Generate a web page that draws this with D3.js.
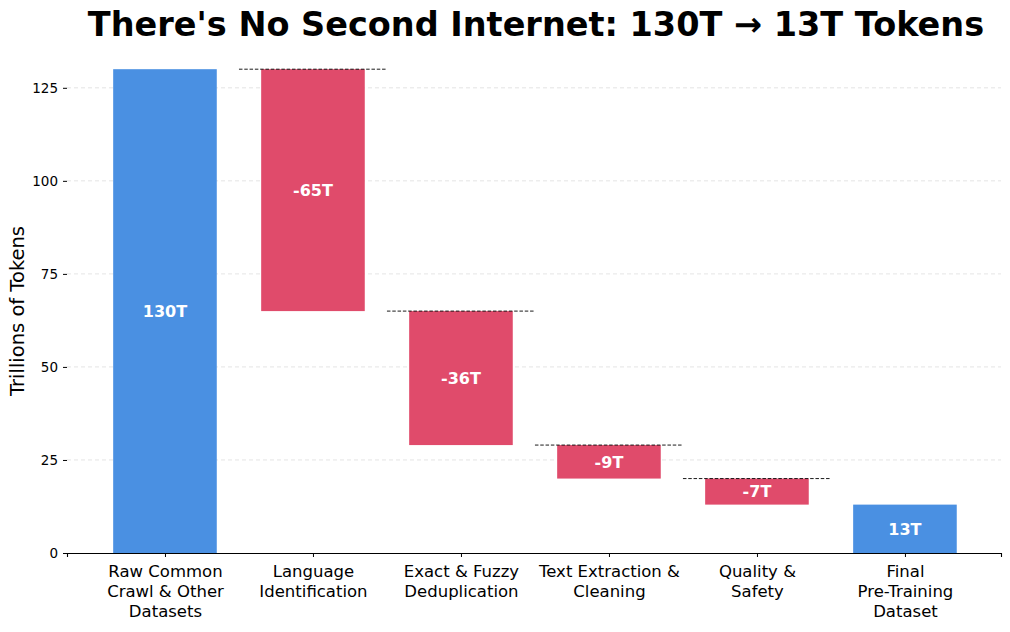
<!DOCTYPE html>
<html>
<head>
<meta charset="utf-8">
<script src="https://cdn.jsdelivr.net/npm/d3@7"></script>
<style>
  body { margin: 0; background: #fff; }
  svg, svg text { font-family: "DejaVu Sans", sans-serif; }
  .grid line { stroke: #dddddd; stroke-dasharray: 4,3; stroke-width: 0.8; }
  .axis text { fill: #000; }
</style>
</head>
<body>
<svg id="chart" width="1010" height="632"></svg>
<script>
// stages of the waterfall
var categories = [
  ['Raw Common', 'Crawl & Other', 'Datasets'],
  ['Language', 'Identification'],
  ['Exact & Fuzzy', 'Deduplication'],
  ['Text Extraction &', 'Cleaning'],
  ['Quality &', 'Safety'],
  ['Final', 'Pre-Training', 'Dataset']
];
var changes = [130, -65, -36, -9, -7, 13];   // trillions of tokens
var kinds = ['total', 'step', 'step', 'step', 'step', 'total'];
var labels = ['130T', '-65T', '-36T', '-9T', '-7T', '13T'];
var yTicks = [0, 25, 50, 75, 100, 125];

var colors = { total: '#4a90e2', step: '#e04b6b' };
var margins = { top: 45, left: 67, right: 9, bottom: 79 };

var svg = d3.select('#chart');
var width = +svg.attr('width');
var height = +svg.attr('height');

// running totals -> bar start / end
var running = 0;
var bars = changes.map(function (v, i) {
  var d;
  if (kinds[i] === 'total') {
    d = { i: i, lo: 0, hi: v, prev: null };
    running = v;
  } else {
    d = { i: i, lo: running + v, hi: running, prev: running };
    running = running + v;
  }
  d.label = labels[i];
  d.kind = kinds[i];
  return d;
});

var x = d3.scaleLinear()
  .domain([-0.662, categories.length - 0.351])
  .range([margins.left, width - margins.right]);
var y = d3.scaleLinear()
  .domain([0, 136.5])
  .range([height - margins.bottom, margins.top]);
var barW = 0.7;

// grid
svg.append('g')
  .attr('class', 'grid')
  .selectAll('line')
  .data(yTicks.filter(function (t) { return t > 0; }))
  .enter()
  .append('line')
  .attr('x1', x.range()[0])
  .attr('x2', x.range()[1])
  .attr('y1', function (d) { return y(d); })
  .attr('y2', function (d) { return y(d); });

// y axis without the spine
var yAxis = svg.append('g')
  .attr('class', 'axis y')
  .attr('transform', 'translate(' + margins.left + ',0)')
  .call(d3.axisLeft(y).tickValues(yTicks).tickSize(4).tickPadding(5));
yAxis.attr('font-family', null).attr('font-size', null);
yAxis.select('.domain').remove();
yAxis.selectAll('text').style('font-size', '13.5px');

// bars
svg.append('g')
  .selectAll('rect')
  .data(bars)
  .enter()
  .append('rect')
  .attr('x', function (d) { return x(d.i - barW / 2); })
  .attr('width', function (d) { return x(barW) - x(0); })
  .attr('y', function (d) { return y(d.hi); })
  .attr('height', function (d) { return y(d.lo) - y(d.hi); })
  .attr('fill', function (d) { return colors[d.kind]; });

// connectors
svg.append('g')
  .selectAll('line')
  .data(bars.filter(function (d) { return d.prev !== null; }))
  .enter()
  .append('line')
  .attr('x1', function (d) { return x(d.i - 0.5); })
  .attr('x2', function (d) { return x(d.i + 0.5); })
  .attr('y1', function (d) { return y(d.prev); })
  .attr('y2', function (d) { return y(d.prev); })
  .attr('stroke', '#000')
  .attr('stroke-width', 0.9)
  .attr('stroke-dasharray', '3.5,1.8');

// value labels
svg.append('g')
  .selectAll('text')
  .data(bars)
  .enter()
  .append('text')
  .attr('x', function (d) { return x(d.i); })
  .attr('y', function (d) { return y((d.lo + d.hi) / 2); })
  .attr('dy', '0.36em')
  .attr('text-anchor', 'middle')
  .attr('fill', '#fff')
  .style('font-size', '16px')
  .style('font-weight', 'bold')
  .text(function (d) { return d.label; });

// x axis
var xAxis = svg.append('g')
  .attr('class', 'axis x')
  .attr('transform', 'translate(0,' + y(0) + ')')
  .call(d3.axisBottom(x).tickValues(d3.range(categories.length)).tickSize(4).tickFormat(''));
xAxis.attr('font-family', null).attr('font-size', null);
xAxis.select('.domain').attr('stroke', '#000').attr('stroke-width', 1.1);

var catText = xAxis.selectAll('.tick')
  .append('text')
  .attr('y', 12)
  .attr('text-anchor', 'middle')
  .style('font-size', '16.5px');
catText.each(function (d) {
  var t = d3.select(this);
  categories[d].forEach(function (line, k) {
    t.append('tspan')
      .attr('x', 0)
      .attr('dy', k === 0 ? '0.71em' : '20px')
      .text(line);
  });
});

// y label
svg.append('text')
  .attr('transform', 'translate(24,311) rotate(-90)')
  .attr('text-anchor', 'middle')
  .style('font-size', '19.5px')
  .text('Trillions of Tokens');

// title
svg.append('text')
  .attr('x', 536)
  .attr('y', 36)
  .attr('text-anchor', 'middle')
  .style('font-size', '33.5px')
  .style('font-weight', 'bold')
  .text("There's No Second Internet: 130T \u2192 13T Tokens");
</script>
</body>
</html>
